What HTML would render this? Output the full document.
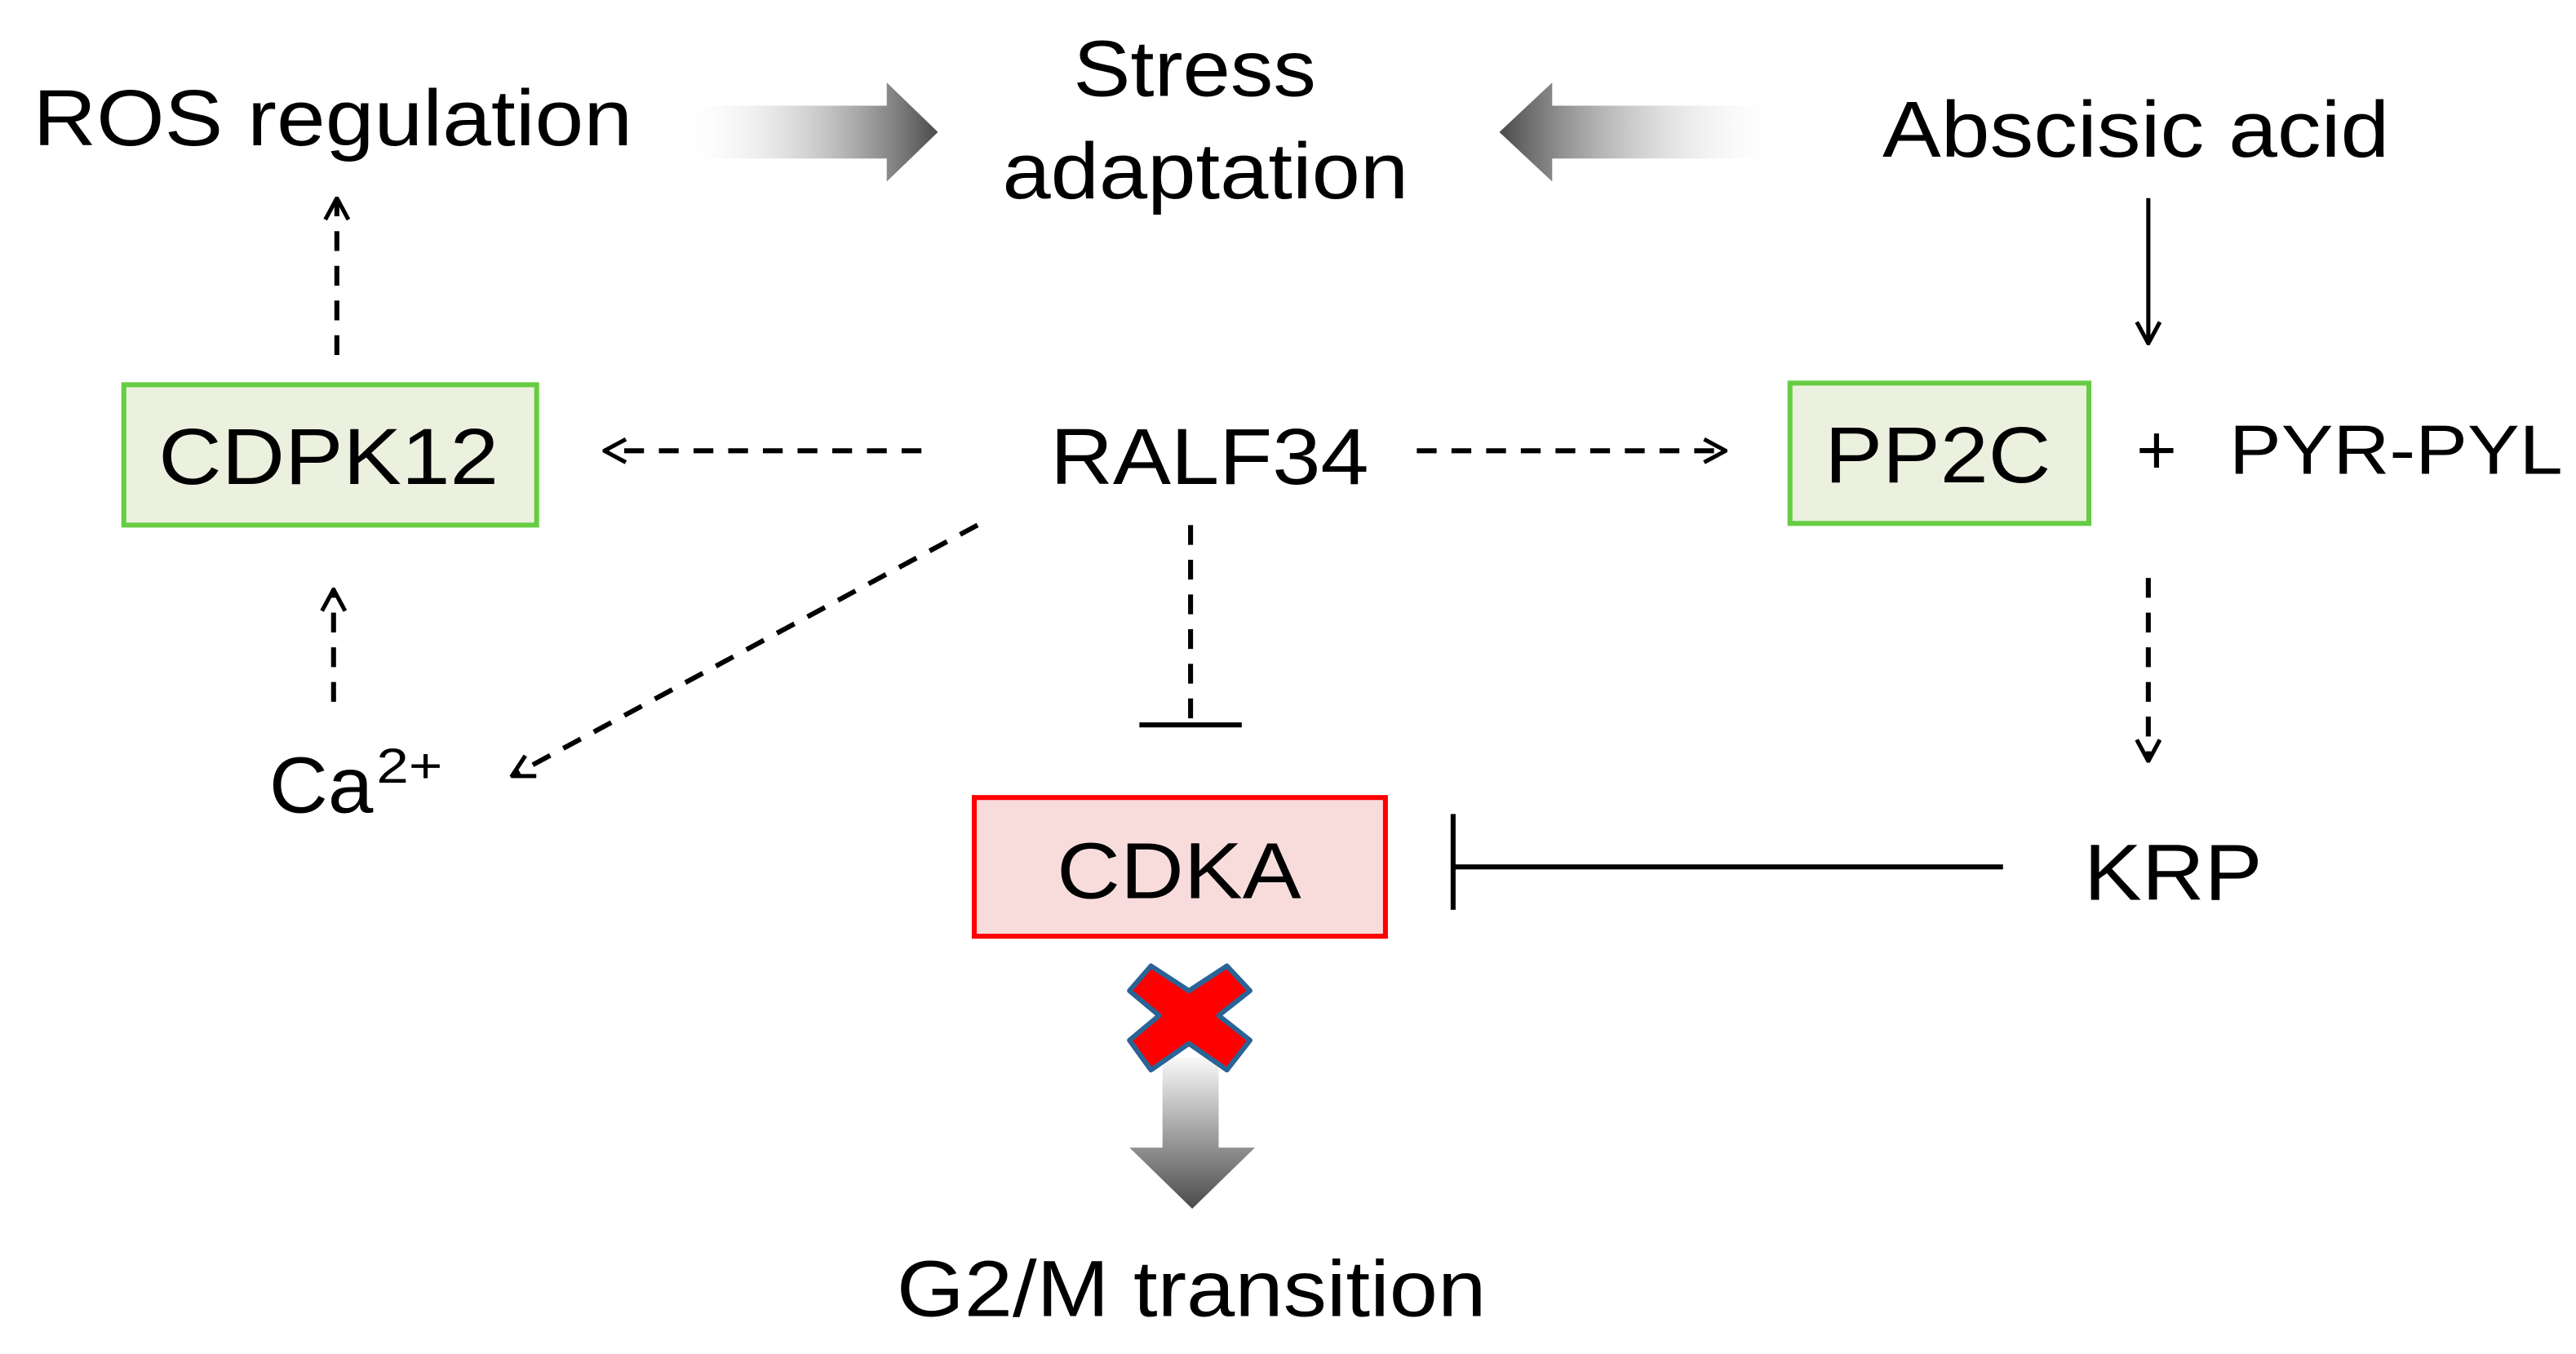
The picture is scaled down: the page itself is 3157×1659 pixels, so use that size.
<!DOCTYPE html>
<html><head><meta charset="utf-8"><style>
html,body{margin:0;padding:0;background:#fff;}
svg{display:block;}
text{font-family:"Liberation Sans",Arial,sans-serif;fill:#000;}
</style></head><body>
<svg width="3157" height="1659" viewBox="0 0 1560 820" preserveAspectRatio="none" xmlns="http://www.w3.org/2000/svg">
<defs>
<linearGradient id="gr" x1="0" x2="1" y1="0" y2="0"><stop offset="0" stop-color="#fff" stop-opacity="0"/><stop offset="1" stop-color="#4a4a4a"/></linearGradient>
<linearGradient id="gl" x1="1" x2="0" y1="0" y2="0"><stop offset="0" stop-color="#fff" stop-opacity="0"/><stop offset="1" stop-color="#4a4a4a"/></linearGradient>
<linearGradient id="gd" x1="0" x2="0" y1="0" y2="1"><stop offset="0" stop-color="#fafafa"/><stop offset="1" stop-color="#4a4a4a"/></linearGradient>
<marker id="ah" viewBox="0 0 16 16" refX="15" refY="8" markerWidth="16" markerHeight="16" markerUnits="userSpaceOnUse" orient="auto"><path d="M2,1 L15,8 L2,15" fill="none" stroke="#000" stroke-width="2.5"/></marker>
</defs>
<g font-size="48" lengthAdjust="spacingAndGlyphs">
<text x="20" y="88" textLength="363" lengthAdjust="spacingAndGlyphs">ROS regulation</text>
<text x="650" y="58" textLength="147" lengthAdjust="spacingAndGlyphs">Stress</text>
<text x="607" y="120" textLength="246" lengthAdjust="spacingAndGlyphs">adaptation</text>
<text x="1140" y="95" textLength="307" lengthAdjust="spacingAndGlyphs">Abscisic acid</text>
<text x="636" y="293" textLength="193" lengthAdjust="spacingAndGlyphs">RALF34</text>
<text x="1262" y="545" textLength="108" lengthAdjust="spacingAndGlyphs">KRP</text>
<text x="543" y="797" textLength="357" lengthAdjust="spacingAndGlyphs">G2/M transition</text>
<text x="163" y="492" textLength="63" lengthAdjust="spacingAndGlyphs">Ca</text>
<text x="228" y="474" font-size="30" textLength="40" lengthAdjust="spacingAndGlyphs">2+</text>
</g>
<path d="M410,64 H537 V50 L568,80 L537,110 V96 H410 Z" fill="url(#gr)"/>
<path d="M1080,64 H940 V50 L908,80 L940,110 V96 H1080 Z" fill="url(#gl)"/>
<rect x="75" y="233" width="250" height="85" fill="#ebf1de" stroke="#66cc44" stroke-width="3"/>
<text x="96" y="293" font-size="48" textLength="206" lengthAdjust="spacingAndGlyphs">CDPK12</text>
<rect x="1084" y="232" width="181" height="85" fill="#ebf1de" stroke="#66cc44" stroke-width="3"/>
<text x="1105" y="292" font-size="48" textLength="137" lengthAdjust="spacingAndGlyphs">PP2C</text>
<text x="1306" y="287" font-size="42" text-anchor="middle">+</text>
<text x="1350" y="287" font-size="42" textLength="202" lengthAdjust="spacingAndGlyphs">PYR-PYL</text>
<rect x="590" y="483" width="249" height="84" fill="#f8dcdc" stroke="#ff0000" stroke-width="3"/>
<text x="640" y="544" font-size="48" textLength="148" lengthAdjust="spacingAndGlyphs">CDKA</text>
<g stroke="#000" stroke-width="3" fill="none">
<line x1="1301" y1="120" x2="1301" y2="208" stroke-width="2.5" marker-end="url(#ah)"/>
<line x1="204" y1="215" x2="204" y2="120" stroke-dasharray="12,9" marker-end="url(#ah)"/>
<line x1="202" y1="425" x2="202" y2="357" stroke-dasharray="12,9" marker-end="url(#ah)"/>
<line x1="558" y1="273" x2="366" y2="273" stroke-dasharray="12,9" marker-end="url(#ah)"/>
<line x1="858" y1="273" x2="1045" y2="273" stroke-dasharray="12,9" marker-end="url(#ah)"/>
<line x1="1301" y1="350" x2="1301" y2="461" stroke-dasharray="12,9" marker-end="url(#ah)"/>
<line x1="592" y1="318" x2="310" y2="470" stroke-dasharray="12,9" marker-end="url(#ah)"/>
<line x1="721" y1="318" x2="721" y2="438" stroke-dasharray="12,9"/>
<line x1="690" y1="439" x2="752" y2="439"/>
<line x1="1213" y1="525" x2="880" y2="525"/>
<line x1="880" y1="493" x2="880" y2="551"/>
</g>
<path d="M704,640 H738 V695 H760 L722,732 L684,695 H704 Z" fill="url(#gd)"/>
<path d="M697,585 L720,600 L743,585 L757,600 L738,615 L757,630 L743,648 L720,632 L697,648 L684,630 L702,615 L684,600 Z" fill="#ff0000" stroke="#2a6496" stroke-width="3" stroke-linejoin="round"/>
</svg>
</body></html>
